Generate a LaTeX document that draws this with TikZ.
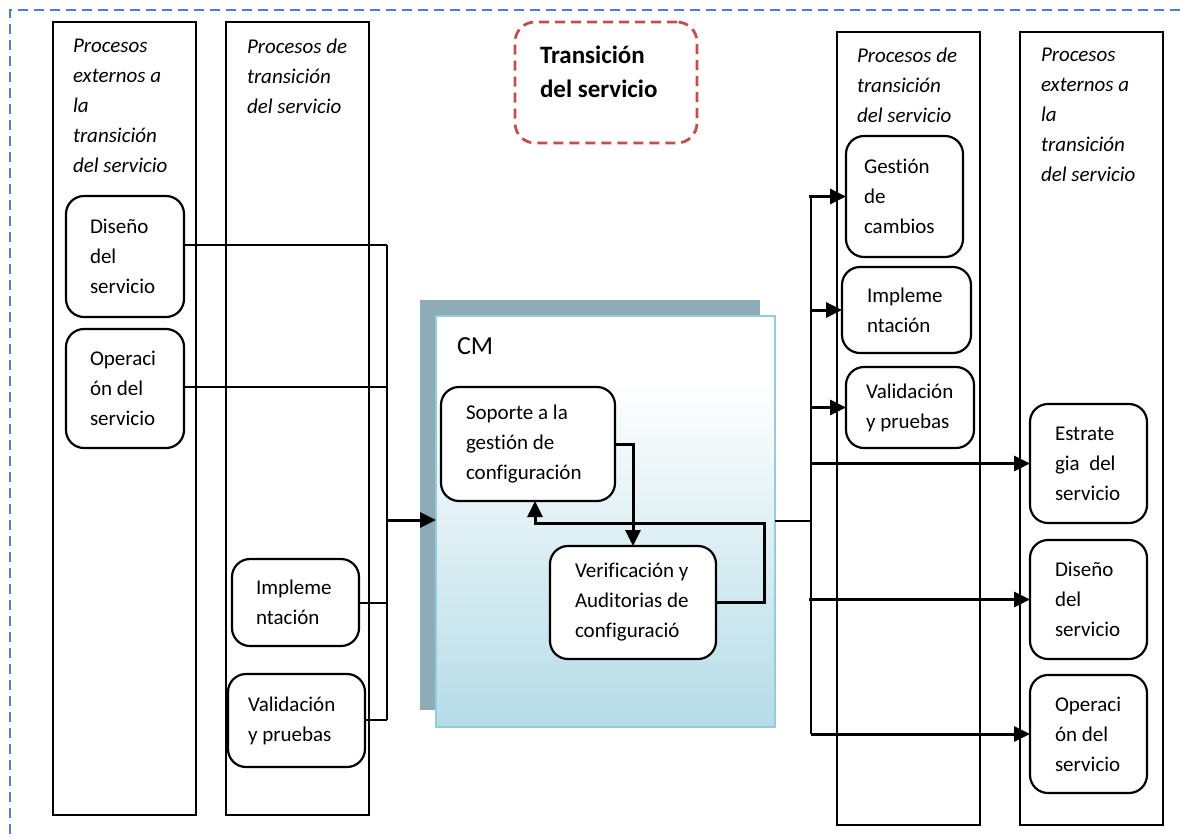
\documentclass[tikz,border=0pt]{standalone}
\usepackage{fontspec}
\setmainfont{Carlito}[Ligatures=NoCommon]
\usetikzlibrary{arrows.meta}
\definecolor{outerblue}{HTML}{4F81BD}
\definecolor{titlered}{HTML}{C0504D}
\definecolor{cmshadow}{HTML}{8FABB5}
\definecolor{cmborder}{HTML}{93CDDD}
\definecolor{cmbottom}{HTML}{B5DCE7}
\pgfdeclareverticalshading{cmshade}{100bp}{color(0bp)=(cmbottom); color(25bp)=(cmbottom); color(67bp)=(white); color(100bp)=(white)}
\begin{document}
\begin{tikzpicture}[x=1pt,y=-1pt,
  every node/.style={inner sep=0pt, outer sep=0pt},
  colbox/.style={draw, line width=2.2pt, anchor=north west, minimum width=143pt},
  rbox/.style={draw, line width=2.2pt, rounded corners=18pt, fill=white},
  boxtext/.style={font=\fontsize{21}{30}\selectfont, align=left, anchor=west},
  hdr/.style={font=\fontsize{21}{30}\selectfont\itshape, align=left, anchor=north west},
  conn/.style={line width=1.8pt},
  busline/.style={line width=2.2pt},
  arr/.style={line width=3pt, -{Triangle[length=16pt,width=15pt]}},
  outerdash/.style={draw=outerblue, line width=2.5pt, dash pattern=on 10pt off 6pt},
  titlebox/.style={draw=titlered, line width=2.8pt, dash pattern=on 10pt off 6pt, rounded corners=20pt}
]
\useasboundingbox (0,0) rectangle (1180,839);

% outer dashed frame (only top and left edges visible)
\coordinate (fr0) at (10,10);
\coordinate (fr1) at (1180,10);
\coordinate (fr2) at (10,839);
\draw[outerdash] (fr1) -- (fr0) -- (fr2);

% columns
\node[colbox, minimum height=793pt] (c1) at (53,22) {};
\node[colbox, minimum height=793pt] (c2) at (226,22) {};
\node[colbox, minimum height=793pt] (c3) at (837,32) {};
\node[colbox, minimum height=793pt] (c4) at (1020,32) {};

% column headers
\node[hdr] (h1) at (73,39.5) {Procesos\\externos a\\la\\transición\\del servicio};
\node[hdr] (h2) at (247,38.5) {Procesos de\\transición\\del servicio};
\node[hdr] (h3) at (857,47.5) {Procesos de\\transición\\del servicio};
\node[hdr] (h4) at (1041,48.5) {Procesos\\externos a\\la\\transición\\del servicio};

% title
\node[titlebox, minimum width=182pt, minimum height=121pt] (tb) at (606,82.5) {};
\node[font=\fontsize{25}{34}\selectfont\bfseries, align=left, anchor=west] (tt) at (540,72) {Transición\\del servicio};

% CM block
\node[fill=cmshadow, anchor=north west, minimum width=340pt, minimum height=410pt] (cmsh) at (420,300) {};
\node[draw=cmborder, line width=2.2pt, shading=cmshade, minimum width=339pt, minimum height=411pt] (cm) at (605.5,521.5) {};
\node[font=\fontsize{26}{30}\selectfont, anchor=base west] (cmt) at (457,354) {CM};

% left boxes
\node[rbox, minimum width=118pt, minimum height=121pt] (dis1) at (125,256.5) {};
\node[boxtext] (tdis1) at ([xshift=24pt]dis1.west) {Diseño\\del\\servicio};
\node[rbox, minimum width=118pt, minimum height=119pt] (op1) at (125,388.5) {};
\node[boxtext] (top1) at ([xshift=24pt]op1.west) {Operaci\\ón del\\servicio};
\node[rbox, minimum width=127pt, minimum height=87pt] (im2) at (295.5,602.5) {};
\node[boxtext] (tim2) at ([xshift=24pt]im2.west) {Impleme\\ntación};
\node[rbox, minimum width=137pt, minimum height=93pt] (val2) at (296.5,720.5) {};
\node[boxtext] (tval2) at ([xshift=20pt]val2.west) {Validación\\y pruebas};

% CM inner boxes
\node[rbox, minimum width=174pt, minimum height=114pt] (sop) at (528,444) {};
\node[boxtext] (tsop) at ([xshift=25pt]sop.west) {Soporte a la\\gestión de\\configuración};
\node[rbox, minimum width=166pt, minimum height=113pt] (ver) at (633,602.5) {};
\node[boxtext] (tver) at ([xshift=25pt]ver.west) {Verificación y\\Auditorias de\\configuració};

% right boxes
\node[rbox, minimum width=117pt, minimum height=121pt] (gc) at (904.5,196.5) {};
\node[boxtext] (tgc) at ([xshift=18pt]gc.west) {Gestión\\de\\cambios};
\node[rbox, minimum width=129pt, minimum height=86pt] (im3) at (906.5,310) {};
\node[boxtext] (tim3) at ([xshift=25pt]im3.west) {Impleme\\ntación};
\node[rbox, minimum width=128pt, minimum height=81pt] (val3) at (910,407.5) {};
\node[boxtext] (tval3) at ([xshift=20pt]val3.west) {Validación\\y pruebas};
\node[rbox, minimum width=117pt, minimum height=119pt] (est) at (1088.5,463.5) {};
\node[boxtext] (test) at ([xshift=25pt]est.west) {Estrate\\gia\ \ del\\servicio};
\node[rbox, minimum width=117pt, minimum height=119pt] (dis4) at (1088.5,599.5) {};
\node[boxtext] (tdis4) at ([xshift=25pt]dis4.west) {Diseño\\del\\servicio};
\node[rbox, minimum width=117pt, minimum height=118pt] (op4) at (1088.5,734) {};
\node[boxtext] (top4) at ([xshift=25pt]op4.west) {Operaci\\ón del\\servicio};

% left bus
\coordinate (bLtop) at (387,245);
\coordinate (bLop) at (388,387);
\coordinate (bLim) at (387,603);
\coordinate (bLbot) at (387,720);
\coordinate (bLarr) at (387,520);
\draw[conn] (dis1.east |- bLtop) -- (bLtop);
\draw[busline] (bLtop) -- (bLbot);
\draw[conn] (op1.east |- bLop) -- (bLop);
\draw[conn] (im2.east |- bLim) -- (bLim);
\draw[conn] (val2.east |- bLbot) -- (bLbot);
\draw[arr] (bLarr) -- (cm.west |- bLarr);

% inner CM connectors
\coordinate (k1) at (633,444);
\coordinate (k2) at (764,523);
\coordinate (k3) at (535,523);
\draw[arr] (sop.east) -- (k1) -- (k1 |- ver.north);
\draw[arr] (ver.east) -- (ver.east -| k2) -- (k2) -- (k3) -- (k3 |- sop.south);

% right bus
\coordinate (bR) at (811,521);
\coordinate (bRtop) at (811,196.5);
\coordinate (bRbot) at (811,734);
\coordinate (bx) at (809,0);
\draw[conn] (cm.east |- bR) -- (bR);
\draw[busline] (bRtop) -- (bRbot);
\draw[arr] (gc.west -| bx) -- (gc.west);
\draw[arr] (im3.west -| bR) -- (im3.west);
\draw[arr] (val3.west -| bR) -- (val3.west);
\draw[arr] (est.west -| bR) -- (est.west);
\draw[arr] (dis4.west -| bx) -- (dis4.west);
\draw[arr] (op4.west -| bR) -- (op4.west);
\end{tikzpicture}
\end{document}
